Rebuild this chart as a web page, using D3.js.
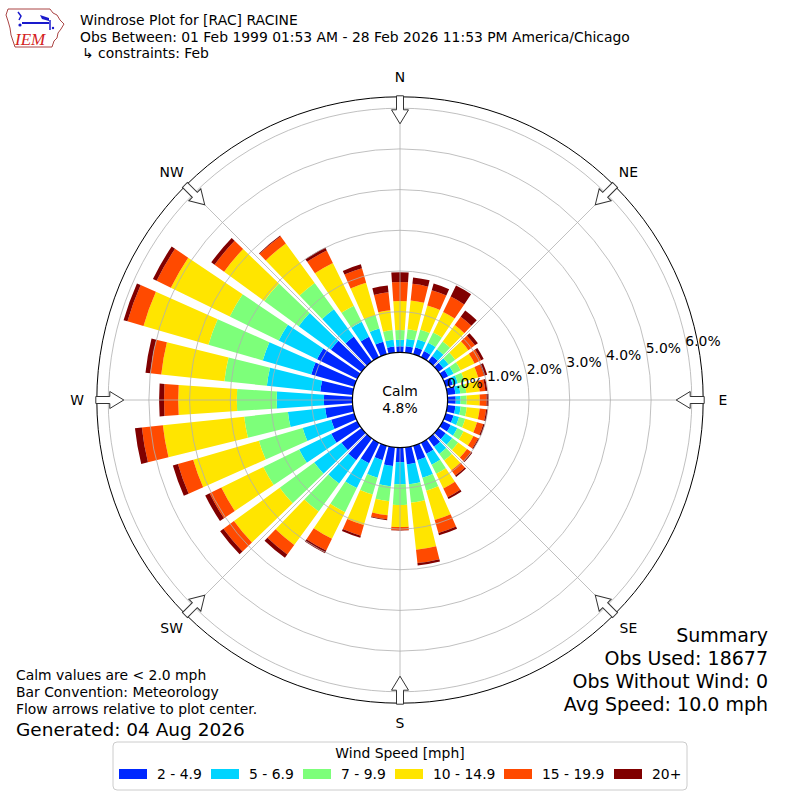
<!DOCTYPE html>
<html><head><meta charset="utf-8">
<script src="https://cdn.jsdelivr.net/npm/d3@7"></script>
<style>
body{margin:0;background:#fff}
text{font-family:"DejaVu Sans",sans-serif;fill:#000}
</style>
</head><body>
<svg id="chart" width="800" height="800"></svg>
<script>
// ---------------- data ----------------
const directions = d3.range(0, 360, 10); // degrees, meteorological
const speedBins = ["2 - 4.9", "5 - 6.9", "7 - 9.9", "10 - 14.9", "15 - 19.9", "20+"];
const binColors = ["#0028ff", "#00d4ff", "#7dff7a", "#ffe500", "#ff4a00", "#800000"];
// percent frequency per direction for each speed bin
const bin2to5   = [.15,.16,.18,.17,.17,.15,.15,.18,.2,.2,.2,.2,.22,.22,.25,.3,.37,.42,.36,.46,.37,.56,.66,.61,.71,.59,.68,.70,.80,1.1,1.1,.93,.76,.56,.32,.15];
const bin5to7   = [.16,.18,.2,.23,.2,.16,.15,.13,.12,.12,.13,.14,.18,.2,.22,.3,.45,.49,.54,.5,.45,.68,.71,.83,.88,.73,.92,1.16,1.32,1.24,1.05,.98,.83,.41,.34,.17];
const bin7to10  = [.24,.24,.25,.28,.24,.2,.19,.17,.15,.15,.15,.16,.17,.18,.2,.25,.33,.46,.51,.37,.43,.66,.85,1.05,.98,1.12,1.08,.98,1.05,1.39,1.34,1.05,.8,.44,.34,.24];
const bin10to15 = [.71,.71,.62,.56,.5,.4,.38,.35,.33,.32,.32,.3,.27,.27,.3,.4,.75,1.16,.54,.35,.78,.73,1.02,1.39,1.15,1.68,2.01,1.44,1.56,1.66,1.61,1.22,1.2,1.17,.83,.49];
const bin15to20 = [.47,.41,.39,.42,.25,.2,.18,.15,.14,.17,.16,.16,.13,.13,.16,.24,.33,.33,.08,.1,.27,.32,.29,.32,.32,.39,.52,.35,.27,.41,.39,.29,.22,.34,.37,.44];
const bin20plus = [.24,.16,.17,.3,.19,.09,.07,.08,.05,.05,.04,.04,.03,.03,.04,.05,.06,.06,.01,.02,.05,.07,.1,.1,.12,.13,.17,.12,.12,.1,.1,.1,.02,.08,.1,.17];
const ringTicks = [0, 1, 2, 3, 4, 5, 6];
const compassLabels = ["N", "NE", "E", "SE", "S", "SW", "W", "NW"];
const compassAngles = [0, 45, 90, 135, 180, 225, 270, 315];
const calmPct = 4.8;
const titleLines = ["Windrose Plot for [RAC] RACINE",
  "Obs Between: 01 Feb 1999 01:53 AM - 28 Feb 2026 11:53 PM America/Chicago",
  "\u21b3 constraints: Feb"];
const noteLines = ["Calm values are < 2.0 mph", "Bar Convention: Meteorology", "Flow arrows relative to plot center."];
const generatedText = "Generated: 04 Aug 2026";
const summaryLines = ["Summary", "Obs Used: 18677", "Obs Without Wind: 0", "Avg Speed: 10.0 mph"];

// ---------------- build ----------------
const series = [bin2to5, bin5to7, bin7to10, bin10to15, bin15to20, bin20plus];
const table = directions.map((d, i) => {
  const row = {dir: d};
  speedBins.forEach((b, j) => row[b] = series[j][i]);
  return row;
});
const stacked = d3.stack().keys(speedBins)(table);

const svg = d3.select("#chart");
const cx = 400, cy = 400;
const r = d3.scaleLinear().domain([0, 6]).range([47.6, 291.8]);
const rOuter = r(6.28);
const g = svg.append("g").attr("transform", `translate(${cx},${cy})`);
const rad = a => a * Math.PI / 180;
const halfW = 3.9;

// bars
const arc = d3.arc();
stacked.forEach((layer, j) => {
  g.append("g").selectAll("path").data(layer).join("path")
    .attr("d", d => arc({
      innerRadius: r(d[0]), outerRadius: r(d[1]),
      startAngle: rad(d.data.dir - halfW), endAngle: rad(d.data.dir + halfW)
    }))
    .attr("fill", binColors[j]);
});

// grid (on top of bars)
const grid = g.append("g").attr("fill", "none").attr("stroke", "#b0b0b0").attr("stroke-width", 0.8);
grid.selectAll("circle").data(ringTicks.slice(1)).join("circle").attr("r", d => r(d));
grid.selectAll("line").data(compassAngles).join("line")
  .attr("x1", a => r(0) * Math.sin(rad(a))).attr("y1", a => -r(0) * Math.cos(rad(a)))
  .attr("x2", a => rOuter * Math.sin(rad(a))).attr("y2", a => -rOuter * Math.cos(rad(a)));

// calm hole
g.append("circle").attr("r", r(0)).attr("fill", "#fff").attr("stroke", "#000").attr("stroke-width", 1.2);
// outer circle
g.append("circle").attr("r", rOuter).attr("fill", "none").attr("stroke", "#000").attr("stroke-width", 1);

// arrows on outer circle, pointing to center
const arrowShape = [[-3.5, rOuter + 1], [-3.5, rOuter - 13], [-8.5, rOuter - 13], [0, rOuter - 27],
                    [8.5, rOuter - 13], [3.5, rOuter - 13], [3.5, rOuter + 1]];
g.append("g").selectAll("path").data(compassAngles).join("path")
  .attr("d", "M" + arrowShape.map(p => [p[0], -p[1]].join(",")).join("L") + "Z")
  .attr("transform", a => `rotate(${a})`)
  .attr("fill", "#fff").attr("stroke", "#333").attr("stroke-width", 1);

// compass labels
g.append("g").selectAll("text").data(compassLabels).join("text")
  .attr("x", (d, i) => 323 * Math.sin(rad(compassAngles[i])))
  .attr("y", (d, i) => -323 * Math.cos(rad(compassAngles[i])))
  .attr("text-anchor", "middle").attr("dominant-baseline", "central")
  .style("font-size", "13.9px").text(d => d);

// radial labels
g.append("g").selectAll("text").data(ringTicks).join("text")
  .attr("x", d => 0.9746 * r(d) + 18.6)
  .attr("y", d => -0.172 * r(d) - 8.8)
  .attr("text-anchor", "middle").attr("dominant-baseline", "central")
  .style("font-size", "13.9px").text(d => d.toFixed(1) + "%");

// calm text
g.append("text").attr("x", 0).attr("y", -4).attr("text-anchor", "middle").style("font-size", "13.9px").text("Calm");
g.append("text").attr("x", 0).attr("y", 13).attr("text-anchor", "middle").style("font-size", "13.9px").text(calmPct.toFixed(1) + "%");

// title
svg.append("g").selectAll("text").data(titleLines).join("text")
  .attr("x", (d, i) => i === 2 ? 82 : 80).attr("y", (d, i) => [25, 42, 58][i])
  .style("font-size", "13.9px").text(d => d);

// logo
const logo = svg.append("g");
logo.append("path")
  .attr("d", "M8,9 L50,9 L53,13 L57,15 L60,20 L64,24 L61,29 L58,33 L57,38 L54,41 L52,47 L15,47 L13,41 L11,35 L10,28 L8,21 L6,15 Z")
  .attr("fill", "none").attr("stroke", "#a03030").attr("stroke-width", 0.9);
logo.append("line").attr("x1", 22).attr("y1", 23).attr("x2", 49).attr("y2", 23).attr("stroke", "#1a1acc").attr("stroke-width", 2);
logo.append("path").attr("d", "M40,15 L49,18 L49,21 L42,19 Z").attr("fill", "#1a1acc");
logo.append("path").attr("d", "M18,12 L21,16 L19,20").attr("fill", "none").attr("stroke", "#1a1acc").attr("stroke-width", 1.5);
logo.append("line").attr("x1", 50).attr("y1", 20).attr("x2", 50).attr("y2", 30).attr("stroke", "#1a1acc").attr("stroke-width", 1.5);
logo.append("circle").attr("cx", 20).attr("cy", 25).attr("r", 1.6).attr("fill", "#1a1acc");
logo.append("circle").attr("cx", 53).attr("cy", 28).attr("r", 1.2).attr("fill", "#1a1acc");
logo.append("text").attr("x", 15).attr("y", 45)
  .style("font-family", "'Liberation Serif','DejaVu Serif',serif").style("font-style", "italic")
  .style("font-size", "17px").style("fill", "#d42020").text("IEM");

// notes lower left
svg.append("g").selectAll("text").data(noteLines).join("text")
  .attr("x", 16).attr("y", (d, i) => 680 + i * 17)
  .style("font-size", "13.9px").text(d => d);
svg.append("text").attr("x", 16).attr("y", 736).style("font-size", "18.5px").text(generatedText);

// summary lower right
svg.append("g").selectAll("text").data(summaryLines).join("text")
  .attr("x", 768).attr("y", (d, i) => 642 + i * 23)
  .attr("text-anchor", "end").style("font-size", "19px").text(d => d);

// legend
const leg = svg.append("g");
leg.append("rect").attr("x", 113).attr("y", 742).attr("width", 574).attr("height", 48)
  .attr("rx", 4).attr("fill", "#fff").attr("stroke", "#cccccc").attr("stroke-width", 1);
leg.append("text").attr("x", 400).attr("y", 758).attr("text-anchor", "middle")
  .style("font-size", "13.9px").text("Wind Speed [mph]");
const legX = [119, 211, 303, 395, 504, 614];
const items = leg.selectAll("g.item").data(speedBins).join("g").attr("class", "item")
  .attr("transform", (d, i) => `translate(${legX[i]},0)`);
items.append("rect").attr("x", 0).attr("y", 769).attr("width", 28).attr("height", 10)
  .attr("fill", (d, i) => binColors[i]);
items.append("text").attr("x", 38).attr("y", 779).style("font-size", "13.9px").text(d => d);
</script>
</body></html>
